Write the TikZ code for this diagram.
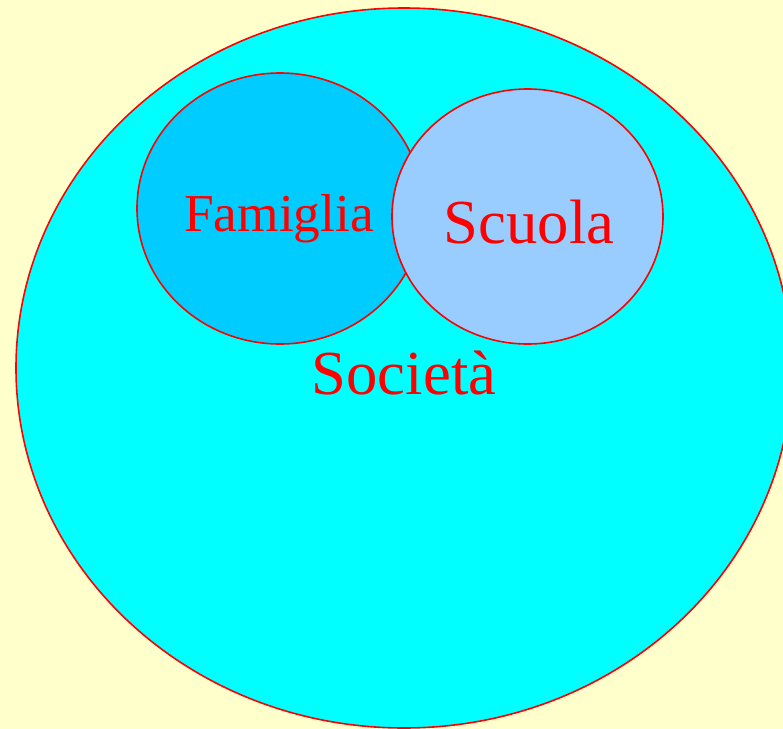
\documentclass[tikz,border=0pt]{standalone}
\usepackage{fontspec}
\setmainfont{Liberation Serif}
\usetikzlibrary{shapes.geometric, positioning}
\definecolor{bgyellow}{HTML}{FFFFCC}
\definecolor{socblue}{HTML}{00FFFF}
\definecolor{famblue}{HTML}{00CCFF}
\definecolor{scublue}{HTML}{99CCFF}

\begin{document}
\begin{tikzpicture}[
    x=0.75pt, y=-0.75pt,
    set/.style={ellipse, draw=red, line width=1.2pt, inner sep=0pt, outer sep=0pt},
    setlabel/.style={text=red, anchor=base, inner sep=0pt}
]
    \useasboundingbox (0,0) rectangle (783,729);
    \fill[bgyellow] (0,0) rectangle (783,729);

    % the three sets
    \node[set, fill=socblue, minimum width=582pt, minimum height=540pt] (societa) at (404,368) {};
    \node[set, fill=famblue, minimum width=214.5pt, minimum height=203.25pt] (famiglia) at (280,208.5) {};
    \node[set, fill=scublue, minimum width=203.25pt, minimum height=191.25pt] (scuola) at (527.5,216.5) {};

    % labels
    \node[setlabel, font=\fontsize{40}{48}\selectfont] (famtext) at (279,231) {Famiglia};
    \node[setlabel, font=\fontsize{47}{56}\selectfont] (scutext) at (529,243) {Scuola};
    \node[setlabel, font=\fontsize{47}{56}\selectfont] (soctext) at (404,394) {Società};

\end{tikzpicture}
\end{document}
